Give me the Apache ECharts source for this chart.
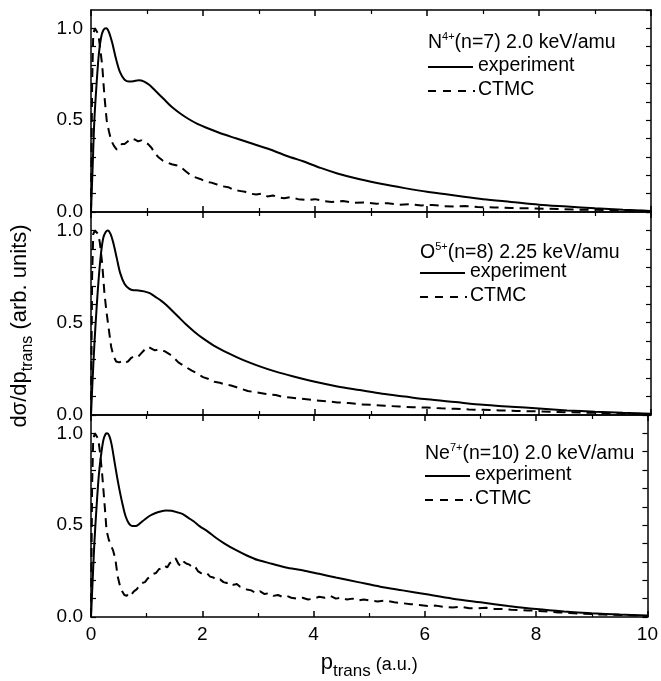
<!DOCTYPE html>
<html>
<head>
<meta charset="utf-8">
<script src="https://cdn.jsdelivr.net/npm/echarts@6/dist/echarts.min.js"></script>
<style>html,body{margin:0;padding:0;background:#fff;}#c{width:661px;height:681px;}</style>
</head>
<body>
<div id="c"></div>
<script>
// ---------------- data ----------------
const xTicks = [0, 2, 4, 6, 8, 10];
const yTickLabels = ['0.0', '0.5', '1.0'];
const ions = ['N', 'O', 'Ne'];
const charges = ['4+', '5+', '7+'];
const titleRest = ['(n=7) 2.0 keV/amu', '(n=8) 2.25 keV/amu', '(n=10) 2.0 keV/amu'];
const seriesNames = ['experiment', 'CTMC'];

const expN = [[0,0],[0.03,0.25],[0.06,0.5],[0.1,0.7],[0.14,0.86],[0.18,0.95],[0.22,0.99],[0.27,1.0],[0.32,0.98],[0.38,0.92],[0.45,0.83],[0.52,0.76],[0.6,0.72],[0.68,0.71],[0.76,0.712],[0.85,0.717],[0.95,0.71],[1.05,0.69],[1.15,0.66],[1.3,0.615],[1.45,0.57],[1.6,0.535],[1.75,0.505],[1.9,0.48],[2.05,0.46],[2.3,0.43],[2.6,0.4],[2.9,0.37],[3.2,0.34],[3.5,0.305],[3.8,0.275],[4.1,0.24],[4.4,0.21],[4.8,0.178],[5.2,0.152],[5.6,0.13],[6.0,0.11],[6.5,0.09],[7.0,0.07],[7.5,0.055],[8.0,0.04],[8.5,0.03],[9.0,0.02],[9.5,0.012],[10,0.006]];

const ctmcN = [[0,0],[0.02,0.7],[0.04,0.97],[0.07,1.0],[0.1,0.99],[0.13,0.97],[0.16,0.9],[0.2,0.8],[0.24,0.63],[0.28,0.5],[0.32,0.44],[0.36,0.39],[0.41,0.36],[0.46,0.34],[0.5,0.35],[0.55,0.37],[0.6,0.37],[0.66,0.385],[0.72,0.40],[0.78,0.395],[0.84,0.385],[0.9,0.39],[0.96,0.375],[1.02,0.37],[1.08,0.35],[1.14,0.32],[1.2,0.30],[1.28,0.28],[1.36,0.27],[1.44,0.26],[1.52,0.255],[1.6,0.245],[1.68,0.225],[1.76,0.205],[1.85,0.19],[1.95,0.18],[2.05,0.165],[2.15,0.16],[2.25,0.15],[2.35,0.14],[2.45,0.135],[2.55,0.12],[2.65,0.115],[2.75,0.11],[2.85,0.1],[2.95,0.095],[3.05,0.1],[3.15,0.085],[3.25,0.09],[3.35,0.08],[3.45,0.075],[3.55,0.08],[3.7,0.07],[3.85,0.065],[4.0,0.07],[4.15,0.06],[4.3,0.055],[4.5,0.06],[4.7,0.05],[4.9,0.052],[5.1,0.045],[5.3,0.048],[5.5,0.04],[5.7,0.042],[5.9,0.036],[6.1,0.038],[6.3,0.032],[6.5,0.03],[6.7,0.032],[6.9,0.027],[7.2,0.025],[7.5,0.022],[7.8,0.02],[8.1,0.018],[8.4,0.016],[8.7,0.013],[9.0,0.012],[9.3,0.01],[9.6,0.008],[10,0.005]];

const expO = [[0,0],[0.03,0.2],[0.06,0.38],[0.1,0.58],[0.14,0.75],[0.18,0.88],[0.22,0.96],[0.26,0.99],[0.3,1.0],[0.35,0.98],[0.4,0.93],[0.46,0.85],[0.52,0.77],[0.6,0.71],[0.68,0.685],[0.76,0.676],[0.85,0.675],[0.95,0.67],[1.05,0.66],[1.15,0.64],[1.25,0.62],[1.35,0.595],[1.45,0.565],[1.55,0.535],[1.7,0.49],[1.85,0.45],[2.0,0.415],[2.2,0.375],[2.45,0.335],[2.7,0.3],[3.0,0.265],[3.3,0.235],[3.6,0.21],[4.0,0.18],[4.4,0.155],[4.8,0.135],[5.2,0.115],[5.6,0.1],[6.0,0.085],[6.5,0.07],[7.0,0.055],[7.5,0.045],[8.0,0.035],[8.5,0.025],[9.0,0.018],[9.5,0.012],[10,0.007]];

const ctmcO = [[0,0],[0.02,0.75],[0.04,0.98],[0.07,1.0],[0.1,0.99],[0.13,0.98],[0.16,0.93],[0.2,0.82],[0.24,0.66],[0.28,0.55],[0.32,0.46],[0.36,0.37],[0.4,0.32],[0.45,0.29],[0.5,0.285],[0.55,0.29],[0.6,0.28],[0.66,0.29],[0.72,0.31],[0.78,0.32],[0.84,0.315],[0.9,0.335],[0.96,0.355],[1.02,0.37],[1.08,0.36],[1.14,0.35],[1.2,0.355],[1.26,0.35],[1.32,0.345],[1.4,0.33],[1.48,0.31],[1.56,0.285],[1.64,0.27],[1.72,0.255],[1.8,0.24],[1.9,0.225],[2.0,0.205],[2.1,0.195],[2.2,0.18],[2.3,0.175],[2.4,0.165],[2.5,0.16],[2.6,0.15],[2.7,0.14],[2.8,0.13],[2.9,0.125],[3.0,0.12],[3.1,0.115],[3.2,0.11],[3.3,0.108],[3.4,0.1],[3.55,0.095],[3.7,0.09],[3.85,0.085],[4.0,0.08],[4.2,0.075],[4.4,0.068],[4.6,0.065],[4.8,0.058],[5.0,0.055],[5.25,0.05],[5.5,0.046],[5.75,0.042],[6.0,0.04],[6.25,0.036],[6.5,0.034],[6.75,0.03],[7.0,0.028],[7.3,0.025],[7.6,0.022],[7.9,0.02],[8.2,0.018],[8.5,0.015],[8.8,0.013],[9.1,0.011],[9.4,0.009],[9.7,0.007],[10,0.005]];

const expNe = [[0,0],[0.03,0.2],[0.06,0.4],[0.1,0.6],[0.14,0.77],[0.18,0.88],[0.22,0.96],[0.26,0.995],[0.29,1.0],[0.33,0.985],[0.37,0.94],[0.42,0.85],[0.47,0.76],[0.52,0.68],[0.57,0.61],[0.62,0.55],[0.68,0.51],[0.74,0.495],[0.8,0.495],[0.88,0.51],[0.96,0.53],[1.05,0.55],[1.15,0.565],[1.25,0.575],[1.35,0.58],[1.45,0.578],[1.55,0.57],[1.65,0.56],[1.75,0.54],[1.85,0.52],[1.95,0.495],[2.1,0.465],[2.25,0.43],[2.4,0.4],[2.6,0.365],[2.8,0.335],[3.0,0.31],[3.25,0.29],[3.5,0.27],[3.8,0.255],[4.1,0.235],[4.4,0.215],[4.8,0.19],[5.2,0.165],[5.6,0.145],[6.0,0.125],[6.5,0.1],[7.0,0.08],[7.5,0.06],[8.0,0.043],[8.5,0.03],[9.0,0.02],[9.5,0.013],[10,0.008]];

const ctmcNe = [[0,0],[0.02,0.72],[0.04,0.97],[0.07,1.0],[0.1,0.99],[0.13,0.97],[0.16,0.9],[0.2,0.78],[0.24,0.63],[0.28,0.47],[0.32,0.42],[0.36,0.39],[0.4,0.36],[0.44,0.31],[0.48,0.22],[0.52,0.17],[0.56,0.14],[0.6,0.12],[0.64,0.115],[0.68,0.13],[0.72,0.12],[0.77,0.14],[0.82,0.15],[0.87,0.17],[0.92,0.185],[0.97,0.19],[1.02,0.21],[1.07,0.22],[1.12,0.235],[1.17,0.24],[1.22,0.26],[1.27,0.265],[1.32,0.28],[1.37,0.27],[1.42,0.295],[1.47,0.30],[1.52,0.32],[1.57,0.29],[1.62,0.275],[1.67,0.30],[1.72,0.29],[1.77,0.285],[1.82,0.27],[1.87,0.275],[1.92,0.25],[1.97,0.24],[2.02,0.235],[2.08,0.24],[2.14,0.22],[2.2,0.215],[2.26,0.2],[2.32,0.205],[2.38,0.19],[2.44,0.185],[2.5,0.19],[2.56,0.175],[2.62,0.18],[2.68,0.165],[2.74,0.16],[2.8,0.15],[2.88,0.145],[2.96,0.13],[3.04,0.14],[3.12,0.125],[3.2,0.13],[3.28,0.115],[3.36,0.12],[3.44,0.11],[3.52,0.115],[3.6,0.105],[3.7,0.1],[3.8,0.105],[3.9,0.095],[4.0,0.1],[4.1,0.11],[4.2,0.105],[4.3,0.115],[4.4,0.1],[4.5,0.105],[4.6,0.095],[4.7,0.1],[4.8,0.09],[4.9,0.095],[5.0,0.09],[5.15,0.085],[5.3,0.09],[5.45,0.08],[5.6,0.075],[5.75,0.07],[5.9,0.065],[6.05,0.06],[6.2,0.062],[6.35,0.055],[6.5,0.052],[6.65,0.055],[6.8,0.048],[6.95,0.047],[7.1,0.05],[7.25,0.044],[7.4,0.043],[7.55,0.04],[7.7,0.038],[7.85,0.036],[8.0,0.034],[8.2,0.03],[8.4,0.025],[8.6,0.022],[8.8,0.018],[9.0,0.016],[9.2,0.013],[9.4,0.012],[9.6,0.01],[9.8,0.008],[10,0.005]];

const experimentSets = [expN, expO, expNe];
const ctmcSets = [ctmcN, ctmcO, ctmcNe];

// ---------------- layout / style ----------------
const FONT = 'Liberation Sans, Arial, Helvetica, sans-serif';
const BLACK = '#000';
const LEG_FS = 19.5;
const grids = [
  {left: 91, width: 560, top: 10, height: 202},
  {left: 91, width: 560, top: 212, height: 203},
  {left: 91, width: 560, top: 415, height: 203}
];
const legendPos = [
  {x: 428, yt: 42, ye: 67, yc: 91},
  {x: 420, yt: 252, ye: 273, yc: 297},
  {x: 425, yt: 453, ye: 476, yc: 500}
];

const chart = echarts.init(document.getElementById('c'), null, {renderer: 'canvas'});

const axisLine = {show: true, onZero: false, lineStyle: {color: BLACK, width: 1.5}};
const xAxes = [], yAxes = [], series = [], graphics = [];

grids.forEach((g, i) => {
  ['bottom', 'top'].forEach(pos => {
    xAxes.push({
      gridIndex: i, type: 'value', position: pos, min: xTicks[0], max: xTicks[xTicks.length - 1],
      interval: xTicks[1] - xTicks[0],
      axisLine: axisLine,
      axisTick: {show: true, inside: true, length: 6, lineStyle: {color: BLACK, width: 1.5}},
      minorTick: {show: true, splitNumber: 2, length: 4, lineStyle: {color: BLACK, width: 1.2}},
      splitLine: {show: false}, minorSplitLine: {show: false},
      axisLabel: {show: pos === 'bottom' && i === 2, color: BLACK, fontSize: 19, fontFamily: FONT, margin: 8},
      name: (pos === 'bottom' && i === 2) ? '{p|p}{s|trans}{u| (a.u.)}' : '',
      nameLocation: 'middle', nameGap: 35,
      nameTextStyle: {
        color: BLACK, fontFamily: FONT,
        rich: {
          p: {fontSize: 22, lineHeight: 22, verticalAlign: 'top', fontFamily: FONT, color: BLACK},
          s: {fontSize: 17, lineHeight: 17, verticalAlign: 'top', padding: [11, 0, 0, 0], fontFamily: FONT, color: BLACK},
          u: {fontSize: 18, lineHeight: 18, verticalAlign: 'top', padding: [4, 0, 0, 0], fontFamily: FONT, color: BLACK}
        }
      }
    });
  });
  ['left', 'right'].forEach(pos => {
    yAxes.push({
      gridIndex: i, type: 'value', position: pos, min: 0, max: 1.1, interval: 0.1,
      axisLine: axisLine,
      axisTick: {show: true, inside: true, length: 5, lineStyle: {color: BLACK, width: 1.2}},
      splitLine: {show: false},
      axisLabel: {
        show: pos === 'left', color: BLACK, fontSize: 19, fontFamily: FONT, margin: 8,
        showMaxLabel: false,
        formatter: v => {
          const s = (Math.round(v * 10) / 10).toFixed(1);
          return yTickLabels.indexOf(s) >= 0 ? s : '';
        }
      }
    });
  });

  series.push({
    name: seriesNames[0], type: 'line', xAxisIndex: 2 * i, yAxisIndex: 2 * i,
    data: experimentSets[i], showSymbol: false, symbol: 'none', smooth: 0.3,
    lineStyle: {color: BLACK, width: 2}, z: 3, silent: true
  });
  series.push({
    name: seriesNames[1], type: 'line', xAxisIndex: 2 * i, yAxisIndex: 2 * i,
    data: ctmcSets[i], showSymbol: false, symbol: 'none', smooth: false,
    lineStyle: {color: BLACK, width: 2, type: [9, 6]}, z: 2, silent: true
  });

  const L = legendPos[i];
  graphics.push({
    type: 'text', x: L.x, y: L.yt,
    style: {
      text: '{n|' + ions[i] + '}{s|' + charges[i] + '}{n|' + titleRest[i] + '}',
      verticalAlign: 'middle', align: 'left',
      rich: {
        n: {fontSize: LEG_FS, lineHeight: 22, verticalAlign: 'bottom', fontFamily: FONT, fill: BLACK, color: BLACK},
        s: {fontSize: 11, lineHeight: 11, verticalAlign: 'top', padding: [0, 0, 10, 0], fontFamily: FONT, fill: BLACK, color: BLACK}
      }
    }
  });
  graphics.push({type: 'line', shape: {x1: L.x, y1: L.ye, x2: L.x + 45, y2: L.ye}, style: {stroke: BLACK, lineWidth: 2}});
  graphics.push({type: 'text', x: L.x + 50, y: L.ye - 1, style: {text: seriesNames[0], fontSize: LEG_FS, fontFamily: FONT, fill: BLACK, verticalAlign: 'middle', align: 'left'}});
  graphics.push({type: 'line', shape: {x1: L.x, y1: L.yc, x2: L.x + 47, y2: L.yc}, style: {stroke: BLACK, lineWidth: 2, lineDash: [8, 7]}});
  graphics.push({type: 'text', x: L.x + 50, y: L.yc - 1, style: {text: seriesNames[1], fontSize: LEG_FS, fontFamily: FONT, fill: BLACK, verticalAlign: 'middle', align: 'left'}});
});

// y-axis title (rotated)
graphics.push({
  type: 'text', x: 20, y: 326, rotation: Math.PI / 2,
  style: {
    text: '{m|dσ/dp}{s|trans}{m| (arb. units)}',
    align: 'center', verticalAlign: 'middle',
    rich: {
      m: {fontSize: 22, lineHeight: 22, verticalAlign: 'top', fontFamily: FONT, fill: BLACK, color: BLACK},
      s: {fontSize: 16, lineHeight: 16, verticalAlign: 'top', padding: [11, 0, 0, 0], fontFamily: FONT, fill: BLACK, color: BLACK}
    }
  }
});

chart.setOption({
  backgroundColor: '#fff',
  animation: false,
  grid: grids,
  xAxis: xAxes,
  yAxis: yAxes,
  series: series,
  graphic: graphics
});
</script>
</body>
</html>
